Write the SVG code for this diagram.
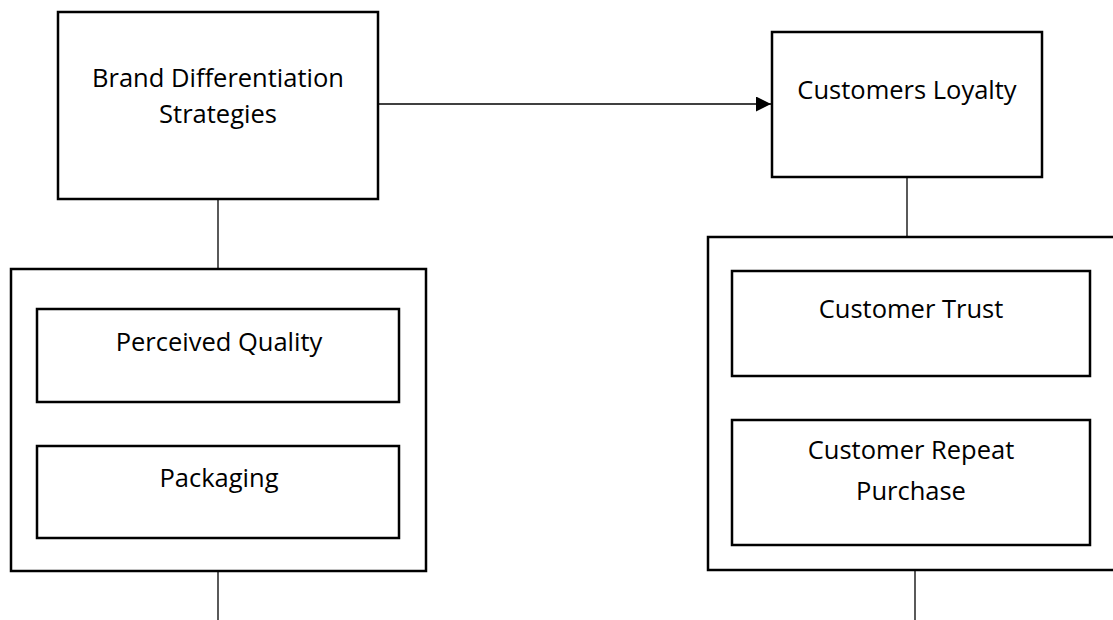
<svg xmlns="http://www.w3.org/2000/svg" width="1113" height="620" viewBox="0 0 1113 620">
  <style>
    .box { fill: #ffffff; stroke: #000000; stroke-width: 2.5; }
    .lbl { font-family: "Open Sans", "Liberation Sans", sans-serif; font-size: 25.5px; fill: #000000; text-anchor: middle; }
    .conn { stroke: #000000; stroke-width: 1.3; fill: none; }
  </style>
  <defs>
    <marker id="arrow" viewBox="0 0 10 10" refX="10" refY="5" markerWidth="16" markerHeight="15" markerUnits="userSpaceOnUse" orient="auto">
      <path d="M0,0 L10,5 L0,10 Z" fill="#000000"/>
    </marker>
  </defs>
  <rect width="1113" height="620" fill="#ffffff"/>

  <g id="connectors">
    <line class="conn" x1="378" y1="104" x2="771" y2="104" marker-end="url(#arrow)"/>
    <line class="conn" x1="218" y1="199" x2="218" y2="269"/>
    <line class="conn" x1="907" y1="177" x2="907" y2="240"/>
    <line class="conn" x1="218" y1="571" x2="218" y2="620"/>
    <line class="conn" x1="915" y1="570" x2="915" y2="620"/>
  </g>

  <g id="brand-differentiation">
    <rect class="box" x="58" y="12" width="320" height="187"/>
    <text class="lbl" x="218" y="87">Brand Differentiation</text>
    <text class="lbl" x="218" y="123">Strategies</text>
  </g>

  <g id="customers-loyalty">
    <rect class="box" x="772" y="32" width="270" height="145"/>
    <text class="lbl" x="907" y="99">Customers Loyalty</text>
  </g>

  <g id="left-group">
    <rect class="box" x="11" y="269" width="415" height="302"/>
  </g>
  <g id="perceived-quality">
    <rect class="box" x="37" y="309" width="362" height="93"/>
    <text class="lbl" x="219" y="351">Perceived Quality</text>
  </g>
  <g id="packaging">
    <rect class="box" x="37" y="446" width="362" height="92"/>
    <text class="lbl" x="219" y="487">Packaging</text>
  </g>

  <g id="right-group">
    <rect class="box" x="708" y="237" width="420" height="333"/>
  </g>
  <g id="customer-trust">
    <rect class="box" x="732" y="271" width="358" height="105"/>
    <text class="lbl" x="911" y="318">Customer Trust</text>
  </g>
  <g id="customer-repeat-purchase">
    <rect class="box" x="732" y="420" width="358" height="125"/>
    <text class="lbl" x="911" y="459">Customer Repeat</text>
    <text class="lbl" x="911" y="500">Purchase</text>
  </g>
</svg>
